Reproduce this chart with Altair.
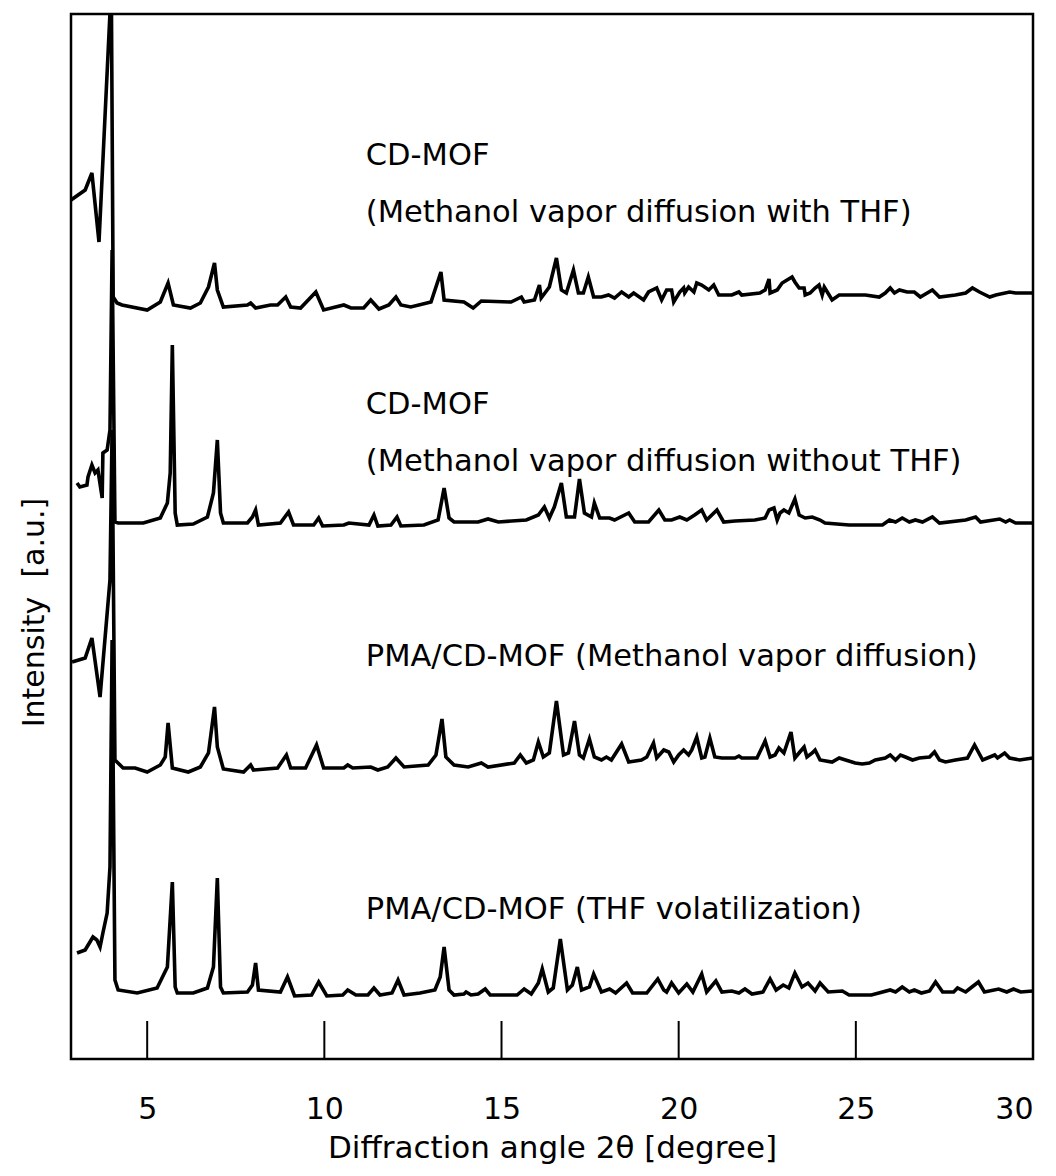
import altair as alt
import pandas as pd

# ---- data (2theta in degree, intensity in a.u.) ----
angle_thf = [2.85, 3.25, 3.44, 3.64, 3.95, 3.98, 4.04, 4.15, 4.29, 5.00, 5.37, 5.59, 5.74, 6.22, 6.50, 6.73, 6.90, 6.98, 7.15,
             7.83, 7.92, 8.06, 8.48, 8.68, 8.91, 9.05, 9.33, 9.76, 9.98, 10.55, 10.75, 11.11, 11.31, 11.54, 11.82, 12.02,
             12.16, 12.44, 13.01, 13.29, 13.38, 13.94, 14.20, 14.43, 15.27, 15.56, 15.64, 15.93, 16.07, 16.12, 16.35,
             16.55, 16.69, 16.83, 17.03, 17.17, 17.31, 17.45, 17.60, 17.82, 18.02, 18.19, 18.39, 18.59, 18.73, 19.01,
             19.15, 19.38, 19.52, 19.66, 19.80, 19.86, 20.03, 20.14, 20.17, 20.28, 20.43, 20.51, 20.65, 20.85, 20.99,
             21.13, 21.50, 21.70, 21.78, 22.29, 22.44, 22.55, 22.58, 22.78, 22.92, 23.06, 23.20, 23.28, 23.40, 23.54,
             23.57, 23.71, 23.85, 23.96, 24.05, 24.11, 24.33, 24.53, 24.67, 25.27, 25.66, 25.83, 25.97, 26.09, 26.23,
             26.45, 26.65, 26.82, 27.16, 27.36, 27.81, 28.10, 28.29, 28.49, 28.78, 28.95, 29.34, 29.51, 30.00]
int_thf = [859, 869, 886, 817, 1046, 1119, 762, 756, 754, 749, 757, 776, 754, 751, 756, 772, 796, 769, 752,
           754, 756, 751, 754, 754, 762, 752, 751, 767, 749, 754, 751, 751, 759, 750, 754, 762,
           754, 752, 757, 787, 759, 757, 751, 758, 757, 762, 757, 759, 774, 761, 772,
           801, 769, 766, 789, 766, 766, 782, 762, 762, 764, 761, 767, 762, 766, 759,
           767, 771, 759, 769, 769, 757, 767, 771, 766, 772, 767, 776, 774, 769, 774,
           764, 764, 767, 764, 766, 769, 780, 766, 769, 776, 779, 782, 777, 771, 771,
           764, 766, 771, 774, 764, 772, 759, 764, 764, 764, 762, 766, 771, 766, 769,
           767, 767, 762, 769, 762, 764, 766, 771, 767, 762, 764, 767, 766, 766]

angle_nothf = [3.02, 3.10, 3.30, 3.33, 3.44, 3.53, 3.61, 3.73, 3.75, 3.87, 3.95, 4.01, 4.09, 4.18, 4.89, 5.37, 5.57, 5.65,
               5.71, 5.79, 5.85, 6.30, 6.70, 6.87, 6.98, 7.07, 7.15, 7.83, 7.97, 8.06, 8.14, 8.76, 8.99, 9.13, 9.70,
               9.84, 9.95, 10.55, 10.69, 11.26, 11.40, 11.51, 11.88, 12.05, 12.16, 12.81, 13.21, 13.38, 13.52, 13.66,
               14.34, 14.62, 14.91, 15.70, 16.04, 16.21, 16.35, 16.49, 16.69, 16.83, 17.06, 17.20, 17.34, 17.54, 17.62,
               17.77, 18.05, 18.19, 18.59, 18.76, 19.15, 19.44, 19.61, 19.80, 20.03, 20.23, 20.45, 20.65, 20.79, 21.08,
               21.27, 21.59, 22.15, 22.44, 22.55, 22.69, 22.78, 22.86, 22.97, 23.11, 23.28, 23.40, 23.57, 23.77, 23.99,
               24.13, 24.81, 25.75, 25.95, 26.12, 26.31, 26.51, 26.68, 26.88, 27.16, 27.36, 28.10, 28.38, 28.52, 29.06,
               29.23, 29.34, 29.51, 30.00]
int_nothf = [576, 572, 574, 582, 594, 586, 589, 561, 606, 609, 629, 809, 537, 536, 536, 541, 556, 586,
             714, 546, 534, 535, 542, 566, 619, 546, 536, 536, 542, 549, 534, 536, 547, 534, 534,
             541, 533, 534, 536, 534, 544, 533, 534, 542, 533, 534, 539, 571, 541, 537,
             537, 540, 537, 539, 544, 552, 541, 552, 576, 542, 542, 580, 546, 542, 556,
             541, 541, 539, 546, 537, 537, 549, 539, 539, 542, 539, 544, 549, 539, 549,
             537, 538, 539, 541, 549, 551, 539, 546, 549, 546, 560, 544, 541, 542, 539,
             536, 534, 534, 539, 537, 541, 537, 539, 537, 542, 536, 539, 542, 537, 540,
             537, 539, 536, 536]

angle_pma_meoh = [2.88, 3.25, 3.44, 3.67, 3.95, 4.01, 4.09, 4.32, 4.66, 5.00, 5.37, 5.51, 5.59, 5.71, 6.16, 6.50, 6.73,
                  6.90, 6.98, 7.15, 7.72, 7.92, 8.00, 8.68, 8.93, 9.05, 9.47, 9.78, 9.98, 10.55, 10.66, 10.80, 11.31,
                  11.51, 11.79, 12.02, 12.25, 12.93, 13.15, 13.32, 13.43, 13.66, 14.06, 14.43, 14.62, 15.36, 15.53,
                  15.70, 15.90, 16.04, 16.18, 16.35, 16.55, 16.75, 16.89, 17.06, 17.20, 17.31, 17.48, 17.62, 17.82,
                  17.96, 18.10, 18.39, 18.59, 18.95, 19.10, 19.29, 19.38, 19.58, 19.72, 19.86, 20.00, 20.14, 20.28,
                  20.37, 20.51, 20.65, 20.74, 20.88, 21.02, 21.22, 21.59, 21.70, 21.78, 22.21, 22.44, 22.58, 22.72,
                  22.83, 22.97, 23.17, 23.28, 23.42, 23.54, 23.62, 23.77, 23.85, 23.99, 24.33, 24.53, 24.98, 25.18,
                  25.38, 25.55, 25.83, 25.97, 26.12, 26.26, 26.40, 26.60, 26.79, 27.08, 27.22, 27.36, 27.53, 27.81,
                  28.15, 28.35, 28.58, 28.92, 29.00, 29.20, 29.34, 29.62, 30.00]
int_pma_meoh = [397, 401, 421, 362, 479, 629, 299, 291, 291, 287, 294, 302, 336, 291, 287, 292, 306,
                352, 312, 290, 287, 294, 289, 291, 304, 291, 291, 314, 291, 291, 294, 291, 292,
                289, 292, 301, 292, 294, 304, 340, 302, 294, 292, 296, 292, 296, 304,
                296, 299, 317, 302, 306, 358, 304, 306, 338, 304, 301, 320, 302, 299,
                302, 299, 315, 297, 299, 302, 316, 301, 309, 307, 297, 304, 309, 304,
                309, 322, 301, 302, 321, 302, 301, 301, 303, 301, 301, 318, 302, 304,
                311, 306, 327, 301, 307, 312, 302, 306, 309, 299, 297, 301, 296, 295,
                296, 299, 301, 304, 299, 304, 302, 299, 301, 302, 307, 299, 297, 299,
                301, 314, 299, 304, 301, 306, 301, 299, 301]

angle_pma_thf = [3.02, 3.25, 3.30, 3.47, 3.58, 3.67, 3.75, 3.87, 3.95, 4.01, 4.09, 4.18, 4.72, 5.28, 5.57, 5.71, 5.79,
                 5.85, 6.30, 6.70, 6.87, 6.98, 7.07, 7.15, 7.83, 7.97, 8.06, 8.14, 8.76, 8.96, 9.16, 9.64, 9.84, 10.07,
                 10.52, 10.66, 10.89, 11.23, 11.40, 11.57, 11.91, 12.08, 12.25, 12.70, 13.12, 13.27, 13.38, 13.52,
                 13.66, 13.94, 14.00, 14.14, 14.34, 14.54, 14.68, 15.44, 15.64, 15.84, 16.04, 16.15, 16.32, 16.46,
                 16.66, 16.86, 17.00, 17.14, 17.26, 17.48, 17.60, 17.82, 18.05, 18.22, 18.53, 18.70, 19.10, 19.41,
                 19.58, 19.66, 19.80, 20.00, 20.23, 20.40, 20.65, 20.79, 21.05, 21.22, 21.50, 21.70, 21.87, 22.07,
                 22.38, 22.58, 22.75, 22.95, 23.11, 23.28, 23.48, 23.65, 23.85, 23.99, 24.22, 24.62, 24.81, 25.44,
                 25.97, 26.12, 26.31, 26.51, 26.65, 26.85, 27.08, 27.25, 27.45, 27.76, 27.87, 28.10, 28.24, 28.46,
                 28.63, 29.03, 29.26, 29.45, 29.65, 30.00]
int_pma_thf = [106, 109, 112, 122, 119, 112, 126, 146, 192, 419, 79, 69, 66, 71, 92, 177, 72,
               66, 66, 71, 92, 181, 72, 66, 67, 74, 96, 69, 67, 82, 63, 64, 77, 63,
               64, 69, 64, 64, 71, 64, 66, 79, 64, 66, 69, 82, 112, 69,
               64, 65, 67, 64, 65, 70, 64, 64, 70, 65, 76, 90, 67, 71,
               120, 69, 74, 92, 69, 72, 85, 67, 70, 66, 76, 66, 66, 80,
               69, 67, 76, 66, 75, 67, 85, 67, 78, 67, 68, 66, 70, 65,
               67, 80, 69, 74, 71, 86, 72, 76, 68, 76, 67, 68, 64, 64,
               69, 67, 72, 67, 69, 66, 68, 77, 67, 67, 71, 67, 71, 77,
               67, 70, 67, 70, 67, 68]

series = [
    ("with THF", angle_thf, int_thf),
    ("without THF", angle_nothf, int_nothf),
    ("PMA methanol", angle_pma_meoh, int_pma_meoh),
    ("PMA THF", angle_pma_thf, int_pma_thf),
]

tick_values = [5, 10, 15, 20, 25, 30]

label_texts = [
    "CD-MOF",
    "(Methanol vapor diffusion with THF)",
    "CD-MOF",
    "(Methanol vapor diffusion without THF)",
    "PMA/CD-MOF (Methanol vapor diffusion)",
    "PMA/CD-MOF (THF volatilization)",
]
label_angle = [11.17] * 6
label_intensity = [903, 846, 654, 597, 402, 149]

# ---- tables ----
rows = []
for name, xs, ys in series:
    for i, (a, v) in enumerate(zip(xs, ys)):
        rows.append({"sample": name, "angle": a, "intensity": v, "order": i})
df = pd.DataFrame(rows)
ticks_df = pd.DataFrame({"angle": tick_values})
labels_df = pd.DataFrame({"angle": label_angle, "intensity": label_intensity, "text": label_texts})

FONT = "DejaVu Sans"
X_DOMAIN = [2.85, 30]
Y_DOMAIN = [0, 1045]

xscale = alt.Scale(domain=X_DOMAIN, nice=False, zero=False)
yscale = alt.Scale(domain=Y_DOMAIN, nice=False, zero=False)

lines = alt.Chart(df).mark_line(color="black", strokeWidth=3.6, clip=True, strokeJoin="miter").encode(
    x=alt.X("angle:Q", scale=xscale,
            axis=alt.Axis(values=tick_values, ticks=False, domain=False, grid=False,
                          labelFontSize=30, labelFont=FONT, labelColor="black", labelPadding=35,
                          title="Diffraction angle 2θ [degree]", titleFont=FONT, titleFontSize=31,
                          titleFontWeight="normal", titleColor="black", titlePadding=9)),
    y=alt.Y("intensity:Q", scale=yscale,
            axis=alt.Axis(labels=False, ticks=False, domain=False, grid=False,
                          title="Intensity\u00a0\u00a0[a.u.]", titleFont=FONT, titleFontSize=30,
                          titleFontWeight="normal", titleColor="black", titlePadding=22,
                          titleY=598)),
    detail="sample:N",
    order="order:Q",
)

tick_marks = alt.Chart(ticks_df).mark_rule(color="black", strokeWidth=2).encode(
    x=alt.X("angle:Q", scale=xscale),
    y=alt.value(1007),
    y2=alt.value(1045),
)

texts = alt.Chart(labels_df).mark_text(align="left", baseline="middle", font=FONT, fontSize=30.5,
                                       color="black").encode(
    x=alt.X("angle:Q", scale=xscale),
    y=alt.Y("intensity:Q", scale=yscale),
    text="text:N",
)

chart = alt.layer(lines, tick_marks, texts).properties(
    width=962,
    height=1045,
    autosize=alt.AutoSizeParams(type="none"),
    padding={"left": 71, "top": 14, "right": 23, "bottom": 117},
    background="white",
).configure_view(stroke="black", strokeWidth=2.5)

chart.save("out.html", embed_options={"renderer": "svg", "actions": False})
